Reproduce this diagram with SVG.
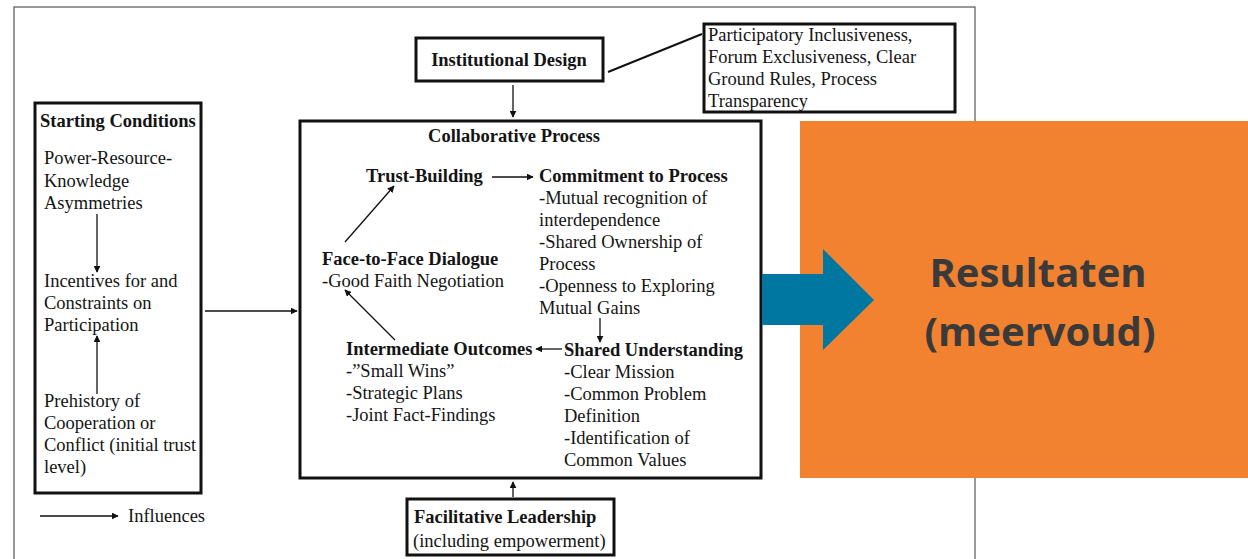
<svg xmlns="http://www.w3.org/2000/svg" width="1248" height="559" viewBox="0 0 1248 559">
<style>
.t{font-family:"Liberation Serif","Times New Roman",serif;font-size:18.5px;fill:#141414}
.b{font-weight:bold}
.box{fill:#fff;stroke:#111;stroke-width:3}
.ln{stroke:#111;stroke-width:1.3;fill:none}
.big{font-family:"Open Sans","Noto Sans",sans-serif;font-weight:bold;font-size:40px;fill:#3a3a3a}
</style>
<defs>
<marker id="ah" viewBox="0 0 10 10" refX="9" refY="5" markerWidth="7" markerHeight="7" markerUnits="userSpaceOnUse" orient="auto">
<path d="M0,0 L10,5 L0,10 z" fill="#111"/>
</marker>
</defs>
<rect x="0" y="0" width="1248" height="559" fill="#fff"/>
<rect id="frame" x="14" y="7" width="961" height="570" fill="none" stroke="#555" stroke-width="1.2"/>

<g id="starting-conditions">
<rect class="box" x="35" y="103" width="166" height="390"/>
<text class="t b" x="40" y="127">Starting Conditions</text>
<text class="t" x="44" y="164">Power-Resource-</text>
<text class="t" x="44" y="187">Knowledge</text>
<text class="t" x="44" y="209">Asymmetries</text>
<text class="t" x="44" y="287">Incentives for and</text>
<text class="t" x="44" y="309">Constraints on</text>
<text class="t" x="44" y="331">Participation</text>
<text class="t" x="44" y="407">Prehistory of</text>
<text class="t" x="44" y="429">Cooperation or</text>
<text class="t" x="44" y="451">Conflict (initial trust</text>
<text class="t" x="44" y="473">level)</text>
</g>

<g id="institutional-design">
<rect class="box" x="416" y="38" width="187" height="43"/>
<text class="t b" x="509" y="66" text-anchor="middle">Institutional Design</text>
</g>

<g id="design-details">
<rect class="box" x="704" y="24" width="251" height="88"/>
<text class="t" x="708" y="41">Participatory Inclusiveness,</text>
<text class="t" x="708" y="63">Forum Exclusiveness, Clear</text>
<text class="t" x="708" y="85">Ground Rules, Process</text>
<text class="t" x="708" y="107">Transparency</text>
</g>

<g id="collaborative-process">
<rect class="box" x="300" y="121" width="461" height="357"/>
<text class="t b" x="514" y="142" text-anchor="middle">Collaborative Process</text>
</g>

<g id="trust-building">
<text class="t b" x="366" y="182">Trust-Building</text>
</g>
<g id="commitment">
<text class="t b" x="539" y="182">Commitment to Process</text>
<text class="t" x="539" y="204">-Mutual recognition of</text>
<text class="t" x="539" y="226">interdependence</text>
<text class="t" x="539" y="248">-Shared Ownership of</text>
<text class="t" x="539" y="270">Process</text>
<text class="t" x="539" y="292">-Openness to Exploring</text>
<text class="t" x="539" y="314">Mutual Gains</text>
</g>
<g id="face-to-face">
<text class="t b" x="322" y="265">Face-to-Face Dialogue</text>
<text class="t" x="322" y="287">-Good Faith Negotiation</text>
</g>
<g id="intermediate-outcomes">
<text class="t b" x="346" y="355">Intermediate Outcomes</text>
<text class="t" x="346" y="377">-”Small Wins”</text>
<text class="t" x="346" y="399">-Strategic Plans</text>
<text class="t" x="346" y="421">-Joint Fact-Findings</text>
</g>
<g id="shared-understanding">
<text class="t b" x="564" y="356">Shared Understanding</text>
<text class="t" x="564" y="378">-Clear Mission</text>
<text class="t" x="564" y="400">-Common Problem</text>
<text class="t" x="564" y="422">Definition</text>
<text class="t" x="564" y="444">-Identification of</text>
<text class="t" x="564" y="466">Common Values</text>
</g>

<g id="facilitative-leadership">
<rect class="box" x="407" y="499" width="207" height="56"/>
<text class="t b" x="414" y="523">Facilitative Leadership</text>
<text class="t" x="413" y="547">(including empowerment)</text>
</g>

<g id="legend">
<line class="ln" x1="40" y1="516" x2="118" y2="516" marker-end="url(#ah)"/>
<text class="t" x="128" y="522">Influences</text>
</g>

<g id="connectors">
<line class="ln" x1="97" y1="214" x2="97" y2="272" marker-end="url(#ah)"/>
<line class="ln" x1="97" y1="394" x2="97" y2="336" marker-end="url(#ah)"/>
<line class="ln" x1="205" y1="311" x2="297" y2="311" marker-end="url(#ah)"/>
<line class="ln" x1="513" y1="85" x2="513" y2="117" marker-end="url(#ah)"/>
<line x1="608" y1="72" x2="702" y2="34" stroke="#111" stroke-width="2"/>
<line class="ln" x1="513" y1="497" x2="513" y2="482" marker-end="url(#ah)"/>
<line class="ln" x1="492" y1="177" x2="533" y2="177" marker-end="url(#ah)"/>
<line class="ln" x1="345" y1="242" x2="394" y2="186" marker-end="url(#ah)"/>
<line class="ln" x1="600" y1="318" x2="600" y2="342" marker-end="url(#ah)"/>
<line class="ln" x1="562" y1="349" x2="536" y2="349" marker-end="url(#ah)"/>
<line class="ln" x1="395" y1="340" x2="345" y2="290" marker-end="url(#ah)"/>
</g>

<g id="resultaten">
<rect x="800" y="121" width="448" height="357" fill="#F38230"/>
<text class="big" x="1038" y="287" text-anchor="middle">Resultaten</text>
<text class="big" x="1040" y="346" text-anchor="middle">(meervoud)</text>
</g>
<g id="block-arrow">
<polygon points="762,274 823,274 823,249 874,300 823,350 823,325 762,325" fill="#0077A1"/>
</g>
</svg>
